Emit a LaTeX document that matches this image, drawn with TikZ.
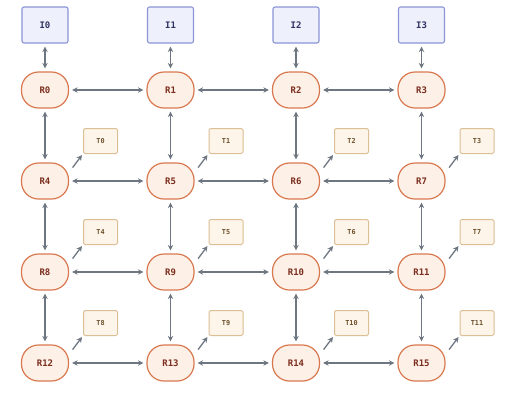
\documentclass[tikz,border=0pt]{standalone}
\usepackage{fontspec}
\setmonofont{DejaVu Sans Mono}
\usetikzlibrary{arrows.meta}
\definecolor{edgegray}{HTML}{6E7781}
\definecolor{rfill}{HTML}{FDF1E7}
\definecolor{rdraw}{HTML}{D9784F}
\definecolor{rtext}{HTML}{7B2D1E}
\definecolor{ifill}{HTML}{EEF0FC}
\definecolor{idraw}{HTML}{8B95D8}
\definecolor{itext}{HTML}{2F3360}
\definecolor{tfill}{HTML}{FDF5E9}
\definecolor{tdraw}{HTML}{DCBF94}
\definecolor{ttext}{HTML}{6B4F2A}
\tikzset{
  router/.style={draw=rdraw, fill=rfill, line width=1.2pt, rounded corners=17pt,
    minimum width=47pt, minimum height=36pt, inner sep=0pt,
    text=rtext, font=\ttfamily\bfseries\fontsize{9}{10}\selectfont},
  inode/.style={draw=idraw, fill=ifill, line width=1.1pt, rounded corners=2pt,
    minimum width=46pt, minimum height=36pt, inner sep=0pt,
    text=itext, font=\ttfamily\bfseries\fontsize{9}{10}\selectfont},
  tnode/.style={draw=tdraw, fill=tfill, line width=1pt, rounded corners=1.5pt,
    minimum width=34pt, minimum height=25pt, inner sep=0pt,
    text=ttext, font=\ttfamily\bfseries\fontsize{6.8}{8}\selectfont},
  conn/.style={draw=edgegray, line width=1.3pt,
    {Stealth[length=5.5pt,width=5.5pt]}-{Stealth[length=5.5pt,width=5.5pt]},
    shorten <=3pt, shorten >=3pt},
  tconn/.style={draw=edgegray, line width=1.3pt,
    -{Stealth[length=5.5pt,width=5.5pt]}}
}
\begin{document}
\begin{tikzpicture}[x=1pt,y=-1pt]
\useasboundingbox[fill=white] (0,0) rectangle (506,392);
\foreach \c in {0,...,3}{
  \node[inode] (I\c) at ({45+125.5*\c},25) {I\c};
}
\foreach \r in {0,...,3}{
  \foreach \c in {0,...,3}{
    \pgfmathtruncatemacro\n{4*\r+\c}
    \node[router] (R\n) at ({45+125.5*\c},{90+91*\r}) {R\n};
  }
}
\foreach \r in {1,...,3}{
  \foreach \c in {0,...,3}{
    \pgfmathtruncatemacro\n{4*\r+\c}
    \pgfmathtruncatemacro\t{\n-4}
    \node[tnode] (T\t) at ({100.5+125.5*\c},{141+91*(\r-1)}) {T\t};
    \draw[tconn] ([shift={(3.5,0.5)}]R\n.30) -- ([shift={(-1,1)}]T\t.south west);
  }
}
\foreach \c in {0,...,3}{
  \draw[conn] (I\c) -- (R\c);
}
\foreach \r in {0,...,3}{
  \foreach \c in {0,...,2}{
    \pgfmathtruncatemacro\n{4*\r+\c}
    \pgfmathtruncatemacro\m{\n+1}
    \draw[conn] (R\n) -- (R\m);
  }
}
\foreach \r in {0,...,2}{
  \foreach \c in {0,...,3}{
    \pgfmathtruncatemacro\n{4*\r+\c}
    \pgfmathtruncatemacro\m{\n+4}
    \draw[conn] (R\n) -- (R\m);
  }
}
\end{tikzpicture}
\end{document}
